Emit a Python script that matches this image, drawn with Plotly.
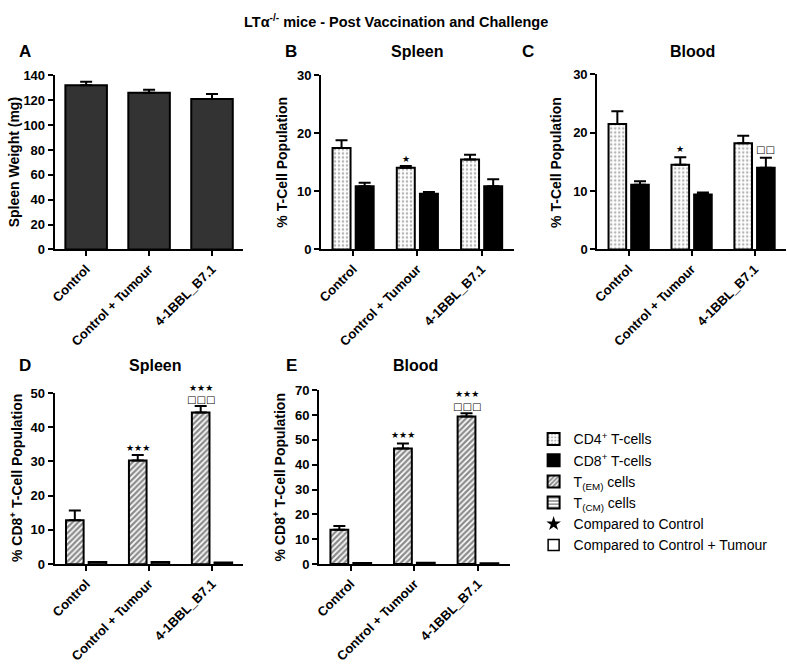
import plotly.graph_objects as go

# ---------------- data ----------------
categories = ["Control", "Control + Tumour", "4-1BBL_B7.1"]

spleen_weight = [132, 126, 121]
spleen_weight_err = [3, 2.5, 4]

spleen_cd4 = [17.5, 14.1, 15.5]
spleen_cd4_err = [1.3, 0.3, 0.8]
spleen_cd8 = [10.9, 9.6, 10.9]
spleen_cd8_err = [0.6, 0.3, 1.2]

blood_cd4 = [21.5, 14.5, 18.2]
blood_cd4_err = [2.2, 1.3, 1.3]
blood_cd8 = [11.1, 9.4, 14.0]
blood_cd8_err = [0.6, 0.35, 1.7]

spleen_tem = [12.8, 30.3, 44.3]
spleen_tem_err = [2.9, 1.6, 1.9]
spleen_tcm = [0.6, 0.6, 0.5]

blood_tem = [13.8, 46.5, 59.4]
blood_tem_err = [1.5, 2.0, 1.3]
blood_tcm = [0.4, 0.6, 0.3]

# significance counts (stars: vs Control, squares: vs Control + Tumour)
spleen_cd4_stars = [0, 1, 0]
blood_cd4_stars = [0, 1, 0]
blood_cd8_squares = [0, 0, 2]
spleen_tem_stars = [0, 3, 3]
spleen_tem_squares = [0, 0, 3]
blood_tem_stars = [0, 3, 3]
blood_tem_squares = [0, 0, 3]

# ---------------- styling ----------------
W, H = 787, 664
FONT = "Liberation Sans, Arial, sans-serif"
xi = [0, 1, 2]

OFF1, OFF2, BW = -0.32, 0.04, 0.28   # grouped-bar offsets/width (category units)


def px_x(p):
    return p / W


def px_y(p):
    return 1 - p / H


def err(arr):
    return dict(type="data", array=arr, arrayminus=[0] * len(arr), symmetric=False,
                color="black", thickness=2, width=6)


cd4_marker = dict(color="white", line=dict(color="black", width=2),
                  pattern=dict(shape=".", fgcolor="#666666", bgcolor="white", size=4, solidity=0.3))
cd8_marker = dict(color="black", line=dict(color="black", width=2))
tem_marker = dict(color="white", line=dict(color="black", width=2),
                  pattern=dict(shape="/", fgcolor="#1a1a1a", bgcolor="white", size=4, solidity=0.6))
tcm_marker = dict(color="white", line=dict(color="black", width=2),
                  pattern=dict(shape="-", fgcolor="black", bgcolor="white", size=4, solidity=0.4))

fig = go.Figure()

# Panel A
fig.add_trace(go.Bar(x=xi, y=spleen_weight, error_y=err(spleen_weight_err), width=0.66, offset=-0.33,
                     marker=dict(color="#333333", line=dict(color="black", width=2)),
                     showlegend=False, xaxis="x", yaxis="y"))

# Panel B
fig.add_trace(go.Bar(x=xi, y=spleen_cd4, error_y=err(spleen_cd4_err), width=BW, offset=OFF1,
                     marker=cd4_marker, name="CD4<sup>+</sup> T-cells", legendrank=1,
                     xaxis="x2", yaxis="y2"))
fig.add_trace(go.Bar(x=xi, y=spleen_cd8, error_y=err(spleen_cd8_err), width=BW, offset=OFF2,
                     marker=cd8_marker, name="CD8<sup>+</sup> T-cells", legendrank=2,
                     xaxis="x2", yaxis="y2"))
# Panel C
fig.add_trace(go.Bar(x=xi, y=blood_cd4, error_y=err(blood_cd4_err), width=BW, offset=OFF1,
                     marker=cd4_marker, showlegend=False, xaxis="x3", yaxis="y3"))
fig.add_trace(go.Bar(x=xi, y=blood_cd8, error_y=err(blood_cd8_err), width=BW, offset=OFF2,
                     marker=cd8_marker, showlegend=False, xaxis="x3", yaxis="y3"))
# Panel D
fig.add_trace(go.Bar(x=xi, y=spleen_tem, error_y=err(spleen_tem_err), width=BW, offset=OFF1,
                     marker=tem_marker, name="T<sub>(EM)</sub> cells", legendrank=3,
                     xaxis="x4", yaxis="y4"))
fig.add_trace(go.Bar(x=xi, y=spleen_tcm, width=BW, offset=OFF2,
                     marker=tcm_marker, name="T<sub>(CM)</sub> cells", legendrank=4,
                     xaxis="x4", yaxis="y4"))
# Panel E
fig.add_trace(go.Bar(x=xi, y=blood_tem, error_y=err(blood_tem_err), width=BW, offset=OFF1,
                     marker=tem_marker, showlegend=False, xaxis="x5", yaxis="y5"))
fig.add_trace(go.Bar(x=xi, y=blood_tcm, width=BW, offset=OFF2,
                     marker=tcm_marker, showlegend=False, xaxis="x5", yaxis="y5"))

# legend-only entries for significance symbols
fig.add_trace(go.Scatter(x=[None], y=[None], mode="markers", name="Compared to Control", legendrank=5,
                         marker=dict(symbol="star", size=11, color="black"), xaxis="x2", yaxis="y2"))
fig.add_trace(go.Scatter(x=[None], y=[None], mode="markers", name="Compared to Control + Tumour",
                         legendrank=6,
                         marker=dict(symbol="square-open", size=11, color="black", line=dict(width=1.5)),
                         xaxis="x2", yaxis="y2"))

# ---------------- axes ----------------
tickfont = dict(family=FONT, size=13, color="black", weight="bold")


def xax(dom, anchor):
    return dict(domain=dom, anchor=anchor, range=[-0.5, 2.5], tickmode="array", tickvals=xi,
                ticktext=categories, tickangle=-45, showline=True, linecolor="black", linewidth=2,
                ticks="outside", ticklen=5, tickwidth=2, tickcolor="black", showgrid=False,
                zeroline=False, tickfont=tickfont, fixedrange=True)


def yax(dom, anchor, rng, dtick):
    return dict(domain=dom, anchor=anchor, range=rng, dtick=dtick, showline=True, linecolor="black",
                linewidth=2, ticks="outside", ticklen=5, tickwidth=2, tickcolor="black",
                showgrid=False, zeroline=False, tickfont=tickfont, fixedrange=True)


top_dom = [px_y(248), px_y(70)]
bot_dom = [px_y(570), px_y(395)]

layout = dict(
    width=W, height=H, margin=dict(l=0, r=0, t=0, b=0),
    paper_bgcolor="white", plot_bgcolor="white",
    font=dict(family=FONT, color="black"),
    barmode="overlay",
    xaxis=xax([px_x(50), px_x(240)], "y"),
    yaxis=yax(top_dom, "x", [0, 140], 20),
    xaxis2=xax([px_x(318), px_x(512)], "y2"),
    yaxis2=yax(top_dom, "x2", [0, 30], 10),
    xaxis3=xax([px_x(596), px_x(786)], "y3"),
    yaxis3=yax([px_y(248), px_y(69)], "x3", [0, 30], 10),
    xaxis4=xax([px_x(50), px_x(240)], "y4"),
    yaxis4=yax(bot_dom, "x4", [0, 50], 10),
    xaxis5=xax([px_x(316), px_x(508)], "y5"),
    yaxis5=yax([px_y(570), px_y(392)], "x5", [0, 70], 10),
    legend=dict(x=px_x(532), y=px_y(426), xanchor="left", yanchor="top", traceorder="normal",
                font=dict(family=FONT, size=14, color="black"), bgcolor="rgba(0,0,0,0)",
                tracegroupgap=0, itemwidth=30),
    showlegend=True,
    hovermode=False,
)
fig.update_layout(**layout)

ann = []


def text(x, y, t, size=14, angle=0, family=FONT):
    ann.append(dict(x=px_x(x), y=px_y(y), xref="paper", yref="paper", text=t, showarrow=False,
                    textangle=angle, xanchor="center", yanchor="middle",
                    font=dict(family=family, size=size, color="black", weight="bold")))


text(393, 14, "LTα<sup>-/-</sup> mice - Post Vaccination and Challenge", size=14.5)
text(20, 46, "A", 17)
text(288, 46, "B", 17)
text(415, 46, "Spleen", 16)
text(526, 46, "C", 17)
text(692, 46, "Blood", 16)
text(20, 367, "D", 17)
text(151, 367, "Spleen", 16)
text(288, 367, "E", 17)
text(413, 367, "Blood", 16)

text(9, 159, "Spleen Weight (mg)", 14, -90)
text(279, 159, "% T-Cell Population", 14, -90)
text(555, 159, "% T-Cell Population", 14, -90)
text(11, 482, "% CD8<sup>+</sup> T-Cell Population", 14, -90)
text(276, 481, "% CD8<sup>+</sup> T-Cell Population", 14, -90)


# significance symbols above the error bars (annotations, so they are never clipped)
def sig(axis, vals, errs, counts, offset, glyph, shift, size):
    for i, n in enumerate(counts):
        if n:
            ann.append(dict(x=i + offset + BW / 2, y=vals[i] + errs[i], xref="x" + axis, yref="y" + axis,
                            text=glyph * n, showarrow=False, xanchor="center", yanchor="middle",
                            yshift=shift, font=dict(family="DejaVu Sans", size=size, color="black")))


STAR, SQUARE = "★", "□"
sig("2", spleen_cd4, spleen_cd4_err, spleen_cd4_stars, OFF1, STAR, 7, 9)
sig("3", blood_cd4, blood_cd4_err, blood_cd4_stars, OFF1, STAR, 8, 9)
sig("3", blood_cd8, blood_cd8_err, blood_cd8_squares, OFF2, SQUARE, 8, 10)
for axis, vals, errs, stars, squares, s1, s2 in [
        ("4", spleen_tem, spleen_tem_err, spleen_tem_stars, spleen_tem_squares, 7, 18),
        ("5", blood_tem, blood_tem_err, blood_tem_stars, blood_tem_squares, 9, 19)]:
    sig(axis, vals, errs, squares, OFF1, SQUARE, 7, 10)
    sig(axis, vals, errs, [s if q == 0 else 0 for s, q in zip(stars, squares)], OFF1, STAR, s1, 9)
    sig(axis, vals, errs, [s if q > 0 else 0 for s, q in zip(stars, squares)], OFF1, STAR, s2, 9)

fig.update_layout(annotations=ann)
fig.write_html("out.html", config={"displayModeBar": False},
               post_script="document.body.style.margin='0';document.body.style.overflow='hidden';")
